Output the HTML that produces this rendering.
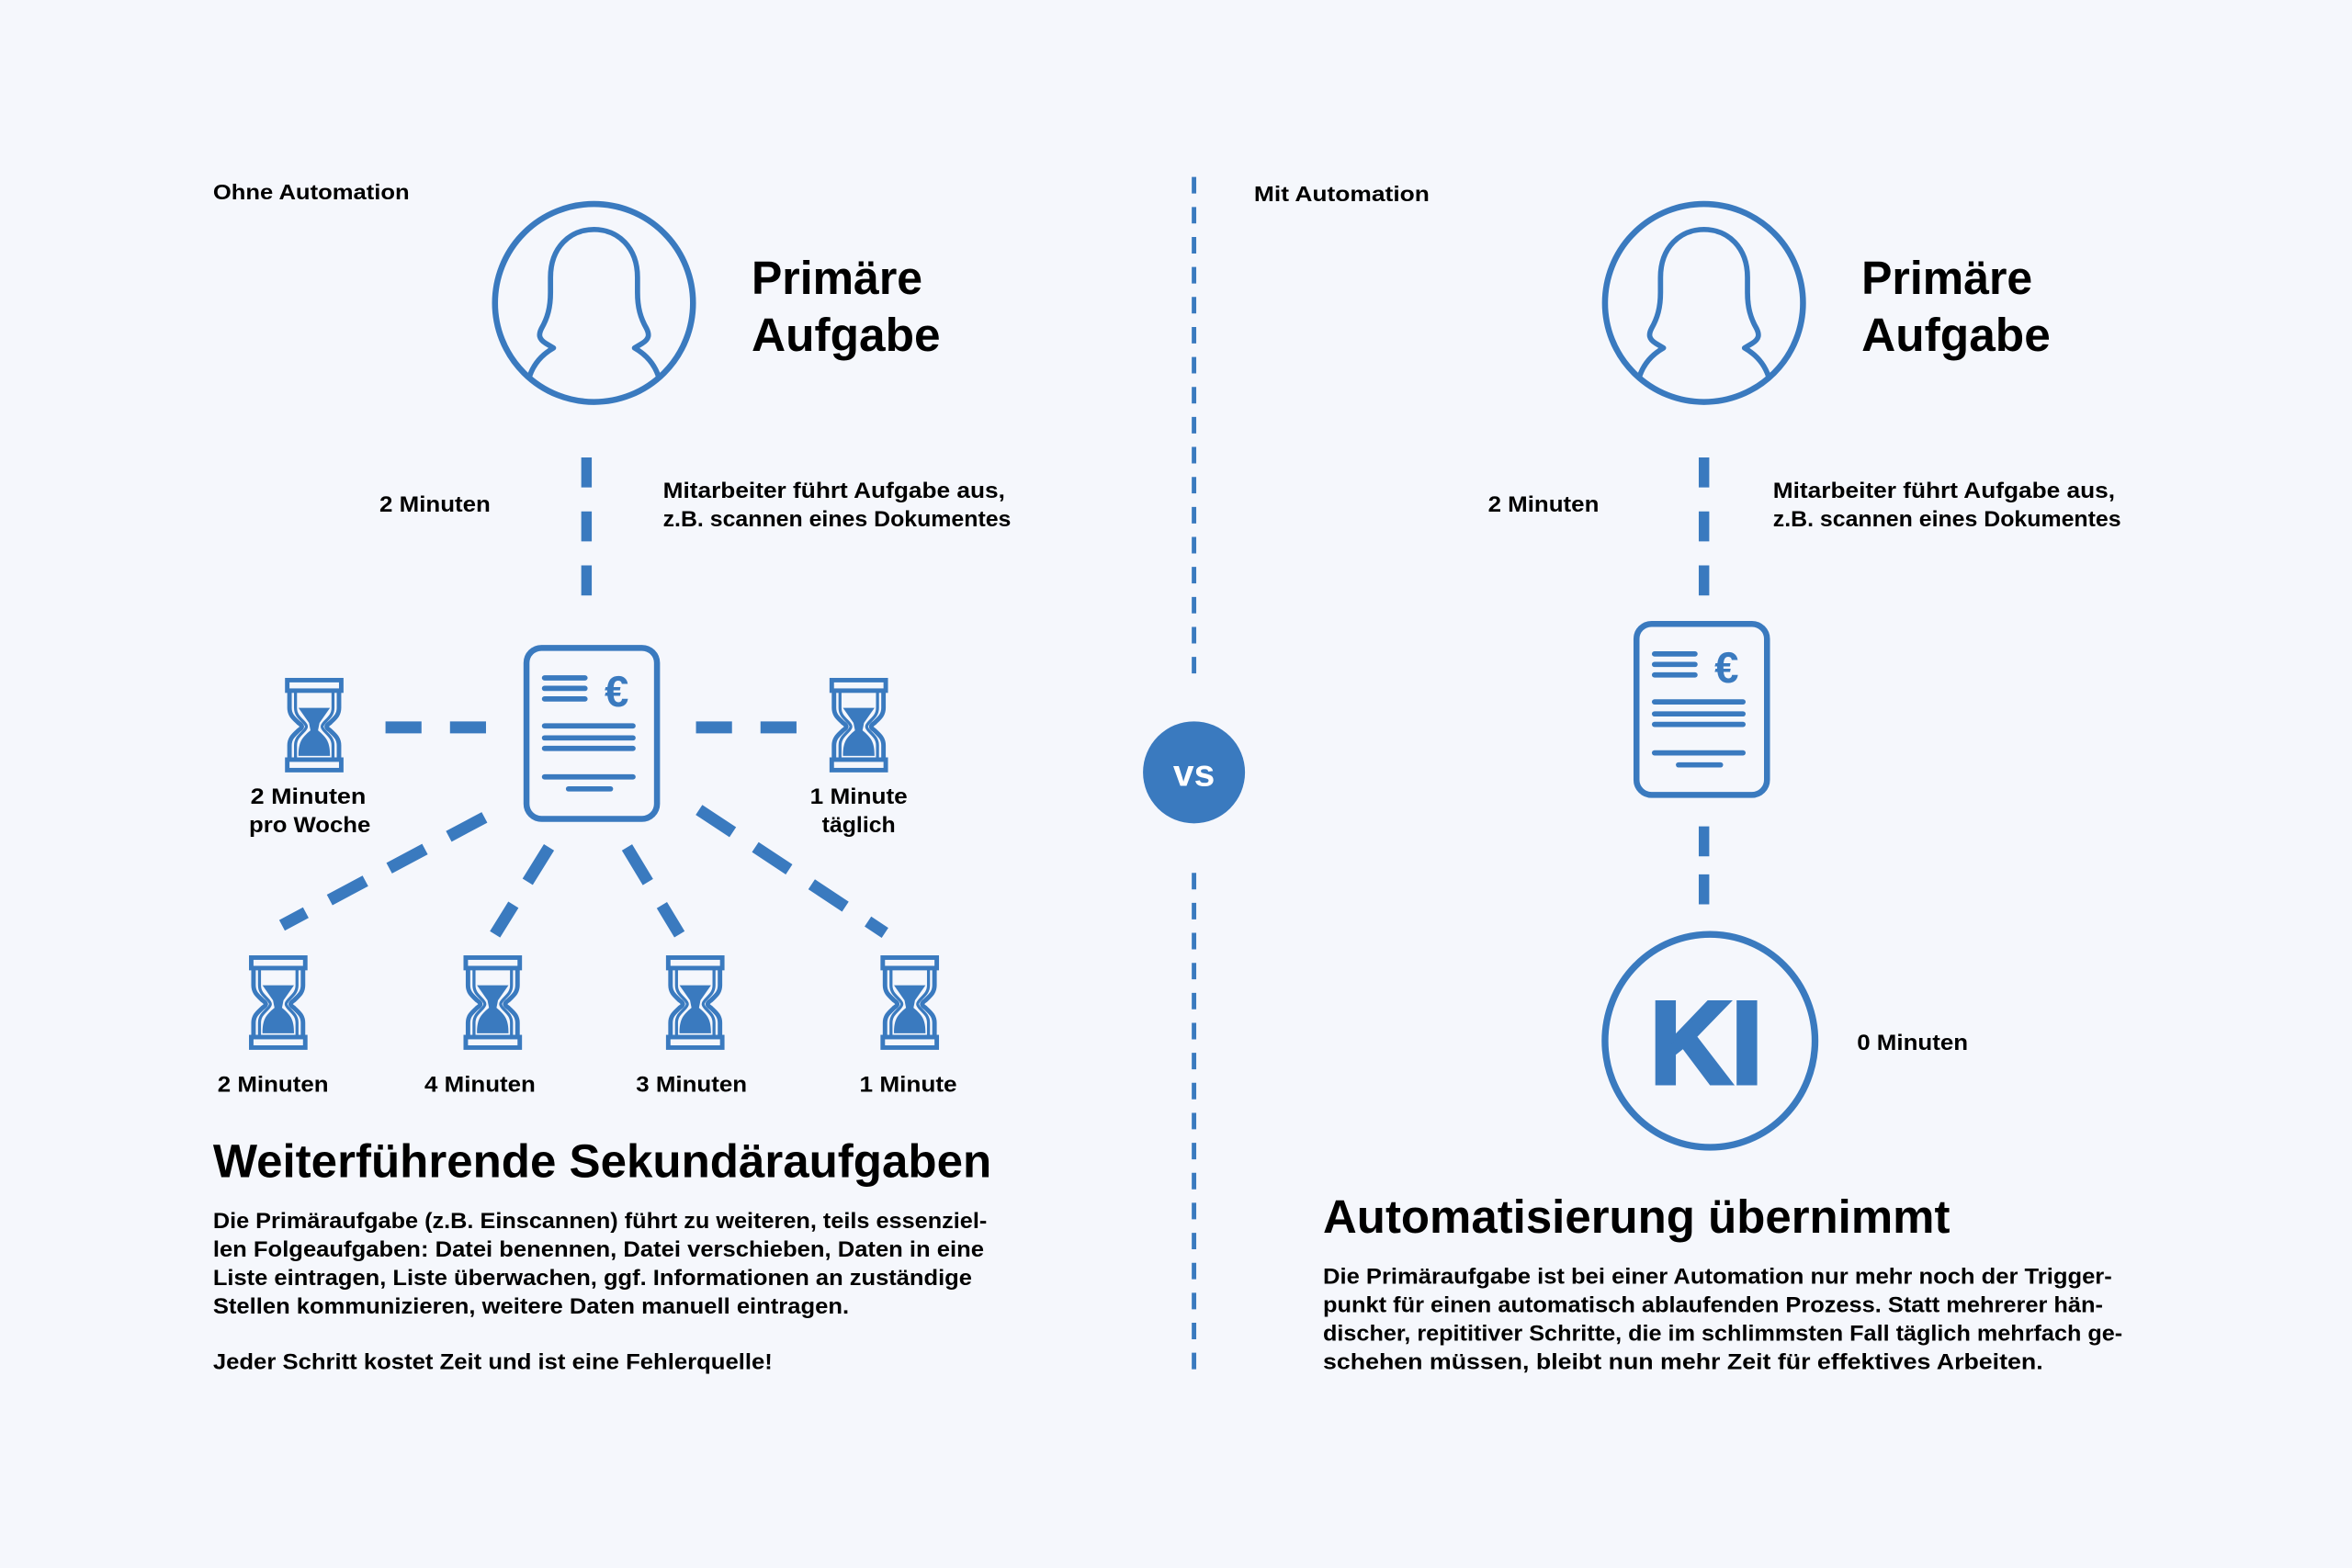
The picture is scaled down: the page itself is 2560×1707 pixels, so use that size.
<!DOCTYPE html>
<html><head><meta charset="utf-8"><style>html,body{margin:0;padding:0;background:#f5f7fc}svg{display:block}</style></head>
<body>
<svg xmlns="http://www.w3.org/2000/svg" width="2560" height="1707" viewBox="0 0 1568 1045.5">
<defs>
<g id="hg">
  <rect x="1.5" y="1.5" width="36" height="7" fill="none" stroke="#3a7abf" stroke-width="3"/>
  <rect x="1.5" y="54.5" width="36" height="7" fill="none" stroke="#3a7abf" stroke-width="3"/>
  <path d="M3,9 L3,20 C3,25 6,27 9,30 C12,32 12,33 9,35 C6,38 3,40 3,45 L3,54 M36,9 L36,20 C36,25 33,27 30,30 C27,32 27,33 30,35 C33,38 36,40 36,45 L36,54" fill="none" stroke="#3a7abf" stroke-width="3"/>
  <path d="M7,9 L7,20 C7,24 9,26 12,29 C15,32 15,33 12,36 C9,39 7,41 7,45 L7,54 M32,9 L32,20 C32,24 30,26 27,29 C24,32 24,33 27,36 C30,39 32,41 32,45 L32,54" fill="none" stroke="#3a7abf" stroke-width="2"/>
  <path d="M9,20 L30,20 L23,30 L22,35 C28,40 30,43 30,52 L9,52 C9,43 11,40 17,35 L16,30 Z" fill="#3a7abf"/>
</g>
<g id="doc">
  <rect x="2" y="2" width="87" height="114" rx="10" fill="none" stroke="#3a7abf" stroke-width="4"/>
  <g stroke="#3a7abf" stroke-width="3.5" stroke-linecap="round">
    <line x1="14" y1="22" x2="41" y2="22"/><line x1="14" y1="29" x2="41" y2="29"/><line x1="14" y1="36" x2="41" y2="36"/>
    <line x1="14" y1="54" x2="73" y2="54"/><line x1="14" y1="62" x2="73" y2="62"/><line x1="14" y1="69" x2="73" y2="69"/>
    <line x1="14" y1="88" x2="73" y2="88"/><line x1="30" y1="96" x2="58" y2="96"/>
  </g>
  <text x="54" y="41" font-family="Liberation Sans, sans-serif" font-weight="bold" font-size="29" fill="#3a7abf">€</text>
</g>
<g id="person">
  <circle cx="396" cy="202" r="66" fill="none" stroke="#3a7abf" stroke-width="4"/>
  <path d="M353,251 C356,242 362,236 369,232 L364,229 C359,226 359,223 361,219 C365,212 367,205 367,195 L367,185 C367,165 380,153 396,153 C412,153 425,165 425,185 L425,195 C425,205 427,212 431,219 C433,223 433,226 428,229 L423,232 C430,236 436,242 439,251" fill="none" stroke="#3a7abf" stroke-width="3.5" stroke-linejoin="round"/>
</g>
</defs>
<rect width="1568" height="1045.5" fill="#f5f7fc"/>
<g font-family="Liberation Sans, sans-serif" font-weight="bold" fill="#000">
<text x="142" y="133" font-size="14" textLength="131" lengthAdjust="spacingAndGlyphs">Ohne Automation</text>
<use href="#person"/>
<text x="501" y="196" font-size="31" textLength="114" lengthAdjust="spacingAndGlyphs">Primäre</text>
<text x="501" y="234" font-size="31" textLength="126" lengthAdjust="spacingAndGlyphs">Aufgabe</text>
<g stroke="#3a7abf" stroke-width="7"><line x1="391" y1="305" x2="391" y2="325"/><line x1="391" y1="341" x2="391" y2="361"/><line x1="391" y1="377" x2="391" y2="397"/></g>
<text x="253" y="341" font-size="15" textLength="74" lengthAdjust="spacingAndGlyphs">2 Minuten</text>
<text x="442" y="332" font-size="15" textLength="228" lengthAdjust="spacingAndGlyphs">Mitarbeiter führt Aufgabe aus,</text>
<text x="442" y="351" font-size="15" textLength="232" lengthAdjust="spacingAndGlyphs">z.B. scannen eines Dokumentes</text>
<use href="#doc" x="349" y="430"/>
<g stroke="#3a7abf" stroke-width="8">
<line x1="257" y1="485" x2="281" y2="485"/><line x1="300" y1="485" x2="324" y2="485"/>
<line x1="464" y1="485" x2="488" y2="485"/><line x1="507" y1="485" x2="531" y2="485"/>
<line x1="323" y1="545" x2="188" y2="617" stroke-dasharray="27 18"/>
<line x1="366" y1="565" x2="330" y2="623" stroke-dasharray="27 18"/>
<line x1="418" y1="565" x2="453" y2="623" stroke-dasharray="27 18"/>
<line x1="466" y1="540" x2="590" y2="622" stroke-dasharray="27 18"/>
</g>
<use href="#hg" x="190" y="452"/>
<use href="#hg" x="553" y="452"/>
<use href="#hg" x="166" y="637"/>
<use href="#hg" x="309" y="637"/>
<use href="#hg" x="444" y="637"/>
<use href="#hg" x="587" y="637"/>
<text x="167" y="536" font-size="15" textLength="77" lengthAdjust="spacingAndGlyphs">2 Minuten</text>
<text x="166" y="555" font-size="15" textLength="81" lengthAdjust="spacingAndGlyphs">pro Woche</text>
<text x="540" y="536" font-size="15" textLength="65" lengthAdjust="spacingAndGlyphs">1 Minute</text>
<text x="548" y="555" font-size="15" textLength="49" lengthAdjust="spacingAndGlyphs">täglich</text>
<text x="145" y="728" font-size="15" textLength="74" lengthAdjust="spacingAndGlyphs">2 Minuten</text>
<text x="283" y="728" font-size="15" textLength="74" lengthAdjust="spacingAndGlyphs">4 Minuten</text>
<text x="424" y="728" font-size="15" textLength="74" lengthAdjust="spacingAndGlyphs">3 Minuten</text>
<text x="573" y="728" font-size="15" textLength="65" lengthAdjust="spacingAndGlyphs">1 Minute</text>
<text x="142" y="785" font-size="31" textLength="519" lengthAdjust="spacingAndGlyphs">Weiterführende Sekundäraufgaben</text>
<g font-size="14.5">
<text x="142" y="819" textLength="516" lengthAdjust="spacingAndGlyphs">Die Primäraufgabe (z.B. Einscannen) führt zu weiteren, teils essenziel-</text>
<text x="142" y="838" textLength="514" lengthAdjust="spacingAndGlyphs">len Folgeaufgaben: Datei benennen, Datei verschieben, Daten in eine</text>
<text x="142" y="857" textLength="506" lengthAdjust="spacingAndGlyphs">Liste eintragen, Liste überwachen, ggf. Informationen an zuständige</text>
<text x="142" y="876" textLength="424" lengthAdjust="spacingAndGlyphs">Stellen kommunizieren, weitere Daten manuell eintragen.</text>
<text x="142" y="913" textLength="373" lengthAdjust="spacingAndGlyphs">Jeder Schritt kostet Zeit und ist eine Fehlerquelle!</text>
</g>
<line x1="796" y1="118" x2="796" y2="452" stroke="#3a7abf" stroke-width="3" stroke-dasharray="11 9"/>
<line x1="796" y1="582" x2="796" y2="914" stroke="#3a7abf" stroke-width="3" stroke-dasharray="11 9"/>
<circle cx="796" cy="515" r="34" fill="#3a7abf"/>
<text x="796" y="524" font-size="25" fill="#fff" text-anchor="middle">vs</text>
<text x="836" y="134" font-size="14" textLength="117" lengthAdjust="spacingAndGlyphs">Mit Automation</text>
<use href="#person" x="740"/>
<text x="1241" y="196" font-size="31" textLength="114" lengthAdjust="spacingAndGlyphs">Primäre</text>
<text x="1241" y="234" font-size="31" textLength="126" lengthAdjust="spacingAndGlyphs">Aufgabe</text>
<g stroke="#3a7abf" stroke-width="7"><line x1="1136" y1="305" x2="1136" y2="325"/><line x1="1136" y1="341" x2="1136" y2="361"/><line x1="1136" y1="377" x2="1136" y2="397"/>
<line x1="1136" y1="551" x2="1136" y2="571"/><line x1="1136" y1="583" x2="1136" y2="603"/></g>
<text x="992" y="341" font-size="15" textLength="74" lengthAdjust="spacingAndGlyphs">2 Minuten</text>
<text x="1182" y="332" font-size="15" textLength="228" lengthAdjust="spacingAndGlyphs">Mitarbeiter führt Aufgabe aus,</text>
<text x="1182" y="351" font-size="15" textLength="232" lengthAdjust="spacingAndGlyphs">z.B. scannen eines Dokumentes</text>
<use href="#doc" x="1089" y="414"/>
<ellipse cx="1140" cy="694" rx="70" ry="71" fill="none" stroke="#3a7abf" stroke-width="4.5"/>
<text x="1100" y="722" font-size="78" fill="#3a7abf" stroke="#3a7abf" stroke-width="3" textLength="75" lengthAdjust="spacingAndGlyphs">KI</text>
<text x="1238" y="700" font-size="15" textLength="74" lengthAdjust="spacingAndGlyphs">0 Minuten</text>
<text x="882" y="822" font-size="31" textLength="418" lengthAdjust="spacingAndGlyphs">Automatisierung übernimmt</text>
<g font-size="14.5">
<text x="882" y="856" textLength="526" lengthAdjust="spacingAndGlyphs">Die Primäraufgabe ist bei einer Automation nur mehr noch der Trigger-</text>
<text x="882" y="875" textLength="520" lengthAdjust="spacingAndGlyphs">punkt für einen automatisch ablaufenden Prozess. Statt mehrerer hän-</text>
<text x="882" y="894" textLength="533" lengthAdjust="spacingAndGlyphs">discher, repititiver Schritte, die im schlimmsten Fall täglich mehrfach ge-</text>
<text x="882" y="913" textLength="480" lengthAdjust="spacingAndGlyphs">schehen müssen, bleibt nun mehr Zeit für effektives Arbeiten.</text>
</g>
</g>
</svg>
</body></html>
